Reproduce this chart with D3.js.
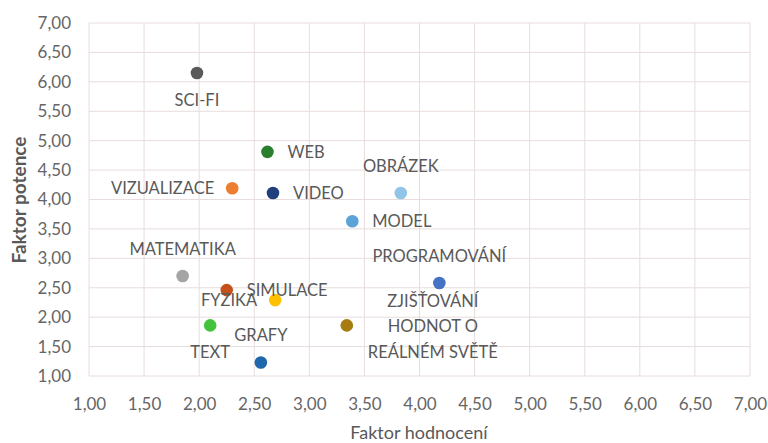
<!DOCTYPE html>
<html><head><meta charset="utf-8">
<script src="https://cdn.jsdelivr.net/npm/d3@7"></script>
<style>body{margin:0;background:#fff}svg{display:block;font-family:Lato,"Open Sans",sans-serif}</style>
</head><body><svg id="c" width="768" height="443"></svg>
<script>
const names = ["SCI-FI","WEB","VIZUALIZACE","VIDEO","OBRÁZEK","MODEL","MATEMATIKA","SIMULACE","FYZIKA","PROGRAMOVÁNÍ","ZJIŠŤOVÁNÍ HODNOT O REÁLNÉM SVĚTĚ","TEXT","GRAFY"];
const xValues = [1.98,2.62,2.30,2.67,3.83,3.39,1.85,2.25,2.69,4.18,3.34,2.10,2.56];
const yValues = [6.15,4.81,4.19,4.11,4.11,3.63,2.70,2.46,2.29,2.58,1.86,1.86,1.23];
const colors = ["#595959","#2a7f2e","#ed7d31","#213f7c","#92c4e8","#5ba3d9","#a5a5a5","#c4501a","#ffc000","#4472c4","#a67c10","#44c23c","#1f67ad"];
const labelPos = ["below","right","left","right","above","right","above","right","left","above","right","below","above"];
const ticks = [1,1.5,2,2.5,3,3.5,4,4.5,5,5.5,6,6.5,7];

const svg = d3.select("#c");
const x = d3.scaleLinear().domain([1,7]).range([89,750]);
const y = d3.scaleLinear().domain([1,7]).range([376,23]);
const fmt = d => d.toFixed(2).replace(".", ",");
const grid = "#e8dcdc", txt = "#595959", tickTxt = "#666666";

const g = svg.append("g");
g.selectAll(".vg").data(ticks).join("line")
  .attr("x1", d => x(d)).attr("x2", d => x(d)).attr("y1", y(7)).attr("y2", y(1))
  .attr("stroke", grid).attr("stroke-width", 1);
g.selectAll(".hg").data(ticks).join("line")
  .attr("y1", d => y(d)).attr("y2", d => y(d)).attr("x1", x(1)).attr("x2", x(7))
  .attr("stroke", grid).attr("stroke-width", 1);

const xa = svg.append("g").attr("transform", `translate(0,${y(1)})`)
  .call(d3.axisBottom(x).tickValues(ticks).tickFormat(fmt).tickSize(0).tickPadding(22));
xa.select(".domain").remove();
xa.selectAll("text").attr("fill", tickTxt).style("font-size", "17px").style("font-family", "Lato,sans-serif");

const ya = svg.append("g").attr("transform", `translate(${x(1)},0)`)
  .call(d3.axisLeft(y).tickValues(ticks).tickFormat(fmt).tickSize(0).tickPadding(18));
ya.select(".domain").remove();
ya.selectAll("text").attr("fill", tickTxt).style("font-size", "17px").style("font-family", "Lato,sans-serif");

svg.append("text").attr("x", 419).attr("y", 439).attr("text-anchor", "middle")
  .attr("fill", txt).style("font-size", "18px").text("Faktor hodnocení");
svg.append("text").attr("transform", "translate(26,200) rotate(-90)").attr("text-anchor", "middle")
  .attr("fill", txt).style("font-size", "19px").style("font-weight", "bold").text("Faktor potence");

const data = names.map((n,i) => ({n, x:xValues[i], y:yValues[i], c:colors[i], p:labelPos[i]}));
svg.selectAll(".pt").data(data).join("circle")
  .attr("cx", d => x(d.x)).attr("cy", d => y(d.y)).attr("r", 6.3).attr("fill", d => d.c);

const lab = svg.selectAll(".lb").data(data).join("text")
  .attr("fill", txt).style("font-size", "16.5px")
  .attr("text-anchor", d => d.p === "left" ? "end" : d.p === "right" ? "start" : "middle")
  .attr("x", d => x(d.x) + (d.p === "left" ? -18 : d.p === "right" ? 20 : 0))
  .attr("y", d => y(d.y) + (d.p === "above" ? -27 : d.p === "below" ? 27 : 0))
  .attr("dominant-baseline", "central");
lab.each(function(d){
  const el = d3.select(this);
  const lines = d.n.startsWith("ZJI") ? ["ZJIŠŤOVÁNÍ","HODNOT O","REÁLNÉM SVĚTĚ"] : [d.n];
  if (lines.length === 1) { el.text(lines[0]); return; }
  el.attr("text-anchor", "middle").attr("x", x(d.x) + 86);
  lines.forEach((t,i) => el.append("tspan").attr("x", x(d.x) + 86)
    .attr("y", y(d.y) + (i-1)*25.5 + 1).text(t));
});
</script></body></html>
